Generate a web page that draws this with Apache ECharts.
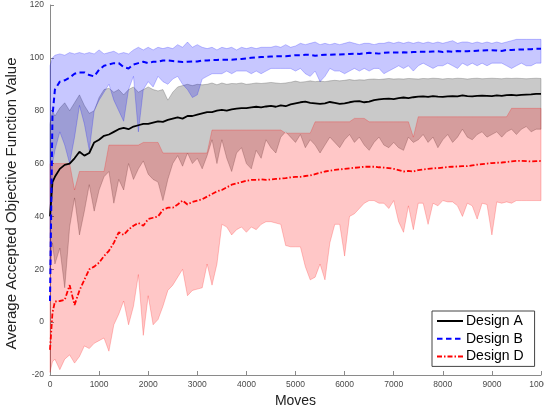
<!DOCTYPE html>
<html>
<head>
<meta charset="utf-8">
<script src="https://cdn.jsdelivr.net/npm/echarts@6/dist/echarts.min.js"></script>
<style>
  html, body { margin: 0; padding: 0; background: #fff; }
  #chart { width: 544px; height: 414px; }
</style>
</head>
<body>
<div id="chart"></div>
<script>
// Sample positions (moves): 0, 50, then every 100 moves up to 10000
const moves = [0, 50].concat(Array.from({ length: 100 }, (_, i) => (i + 1) * 100));

// Design A: mean and min/max envelope
const meanA = [40, 53,
  55, 58, 59.5, 60, 62, 64.5, 63, 64, 68, 69,
  70.5, 71, 72, 73, 73.5, 73, 74, 74.5, 75, 75,
  75.5, 76, 75.8, 76.5, 77, 77.5, 77, 78, 78, 78.5,
  79, 79.5, 79.5, 80, 80.3, 80, 80.5, 80.8, 81, 81,
  81.3, 81.5, 81.3, 81.6, 81.8, 81.5, 82, 81.7, 82.4, 82.8,
  83.2, 83.4, 83, 82.8, 82.6, 82.8, 83.3, 83, 82.6, 82.8,
  83.2, 83.5, 83.6, 83.2, 83.4, 84, 84.3, 84.5, 84.6, 84.4,
  84.8, 85, 84.8, 85.1, 85.3, 85.4, 85.2, 85.5, 85.3, 85.2,
  85.4, 85.5, 85.4, 85.8, 85.5, 85.4, 85.6, 85.7, 85.6, 85.5,
  85.8, 85.6, 85.9, 86, 85.8, 86, 86.1, 86.2, 86.4, 86.4];
const upperA = [75, 80,
  78, 81, 83, 80, 83, 86, 82, 79, 80, 85,
  88, 88.5, 87, 88, 86, 88, 89, 87, 88, 89,
  88, 87.5, 88, 84, 87, 89, 89.5, 90, 89.5, 90,
  89.8, 90, 90.5, 89.8, 90.5, 90, 90.3, 90.2, 90.5, 90,
  90.2, 90.5, 90.3, 90.5, 90.7, 90.5, 90.3, 90.5, 90.8, 91.2,
  90.8, 91, 91.3, 91, 91.2, 91, 91.3, 91.5, 91.3, 91.5,
  91.8, 91.5, 91.7, 91.6, 91.9, 92, 91.8, 92, 92.2, 92,
  92.1, 92, 92.2, 92.1, 92, 92.2, 92.1, 92.3, 92.2, 92,
  92.2, 92.1, 92.3, 92.2, 92, 92.2, 92.3, 92.1, 92.2, 92.3,
  92.2, 92.1, 92.3, 92.2, 92.3, 92.2, 92.1, 92.2, 92.3, 92.2];
const lowerA = [18, 30,
  22, 28, 13, 36, 47, 33, 42, 52, 42, 50,
  55, 57, 45, 54, 50, 60, 54, 58, 61, 56,
  54, 53, 46, 54, 60, 63, 59, 64, 60, 62,
  58, 63, 69, 60, 69, 62, 57, 64, 66, 60,
  58, 65, 62, 69, 66, 64, 70, 72, 70, 68,
  71, 66, 69, 67, 64, 67, 70, 68, 66, 69,
  71, 68, 70, 67, 65, 68, 70, 67, 66, 68,
  66, 65, 70, 68, 69, 71, 68, 70, 66, 69,
  71, 68, 70, 73, 70, 69, 71, 72, 70, 71,
  72, 70, 72, 73, 71, 73, 74, 72, 73, 73];

// Design B: mean and min/max envelope
const meanB = [8, 78,
  88, 91, 91.5, 92.5, 94, 94.5, 94.5, 93.5, 93, 95.5,
  97, 97.5, 98, 98, 96.5, 96, 97.5, 98, 98.5, 98,
  98.5, 98.5, 99, 99, 98.8, 98.6, 98.4, 98.5, 98.6, 98.6,
  99, 99, 99.2, 99.2, 99.3, 99.3, 99.3, 99.5, 99.6, 99.8,
  100, 100.2, 100.3, 100.4, 100.5, 100.6, 100.6, 100.6, 100.8, 101,
  101, 101.2, 101.1, 100.8, 101, 101.2, 101.2, 101.3, 101.3, 101.4,
  101.5, 101.6, 101.5, 101.7, 101.9, 101.8, 101.6, 101.9, 102, 102,
  102, 102.1, 102, 102.2, 102.3, 102.3, 102.3, 102.4, 102.5, 102.2,
  102.5, 102.3, 102.6, 102.5, 102.5, 102.6, 102.7, 102.8, 102.9, 102.9,
  102.8, 102.6, 103, 103, 103.1, 103.2, 103.2, 103.3, 103.4, 103.4];
const upperB = [97, 100,
  101, 101.5, 101, 102, 101.5, 102, 101.5, 102, 101.5, 103,
  101.5, 102, 102.5, 101.5, 102, 101.5, 103, 104, 103, 104,
  103, 104, 103.5, 104, 103.5, 105, 104, 106, 104, 105,
  104, 103.5, 104, 103, 104, 103.5, 104, 103, 104, 103.5,
  104, 103.5, 104, 104, 104, 104.5, 104, 105, 104, 104.5,
  105.5, 105, 105.5, 106, 105, 105.5, 105, 105.5, 105, 105.5,
  106, 105.5, 105, 105.5, 105.5, 105, 105.5, 105.5, 106, 105.5,
  106, 105.5, 106, 105.5, 106, 105.5, 106, 105.5, 106, 105.5,
  106, 106.5, 105.5, 106, 106, 105.5, 106, 105.5, 106, 105.5,
  106, 105.5, 106, 106.5, 107, 107, 107, 107, 107, 107];
const lowerB = [20, 60,
  65, 72, 67, 60, 70, 82, 75, 65, 80, 84,
  87, 90, 84, 80, 76, 88, 93, 72, 88, 91,
  89, 93, 91, 90, 92, 93, 90, 88, 85, 86,
  92, 93, 94, 94, 94, 95, 94, 95, 95, 95,
  94, 95, 94, 95, 96, 96, 96, 96, 96, 95,
  96, 94, 93, 95, 91, 93, 96, 95, 95, 94,
  95, 96, 95, 96, 95, 96, 96, 94, 95, 96,
  97, 96, 97, 95, 97, 98, 97, 96, 97, 97,
  98, 97, 96, 98, 97, 98, 97, 98, 97, 98,
  98, 98, 97, 96, 97, 98, 97, 97, 98, 98];

// Design D: mean and min/max envelope
const meanD = [-10.5, 3.5,
  7.8, 8, 8.4, 14, 6.5, 12, 16, 20, 21, 22.5,
  25, 27, 30, 34, 33, 35, 36.5, 37.5, 36.5, 39,
  39.5, 40, 42.5, 43.3, 43.3, 44.5, 46, 44.5, 45.5, 46,
  46.5, 47.5, 48.5, 49.5, 50, 51, 52, 52.5, 53, 53.5,
  53.8, 53.8, 54, 53.8, 54, 54.2, 54.3, 54.5, 54.8, 55,
  55, 55.3, 55.5, 56, 56.5, 57, 57.3, 57.6, 57.8, 58,
  58.2, 58.4, 58.6, 58.8, 58.8, 58.8, 58.6, 58.5, 58.3, 58,
  57.5, 57, 57.2, 57, 57.5, 57.8, 58, 58.2, 58.3, 58.5,
  58.7, 58.8, 58.9, 59, 59, 59.3, 59.6, 59.8, 60, 60.2,
  60.3, 60.4, 60.6, 60.8, 61, 61, 60.9, 60.8, 60.9, 61];
const upperD = [60, 60,
  60, 60, 60, 60, 50, 57, 57, 57, 57, 57,
  57, 67, 67, 67, 67, 67, 67, 67, 68, 68,
  68, 68, 64, 64, 64, 64, 64, 64, 64, 64,
  64, 64, 72.7, 72.7, 72.7, 72.7, 72.7, 72.7, 72.7, 72.7,
  72.7, 72.7, 72.7, 72.7, 72.7, 72.7, 72.7, 71.5, 71.5, 71.5,
  71.5, 71.5, 71.5, 75.8, 75.8, 75.8, 75.8, 75.8, 75.8, 75.8,
  75.8, 77.1, 77.1, 77.1, 75.8, 75.8, 75.8, 75.8, 75.8, 75.8,
  75.8, 75.8, 75.8, 70, 77.7, 77.7, 77.7, 77.7, 77.7, 77.7,
  77.7, 77.7, 77.7, 77.7, 77.7, 77.7, 77.7, 77.7, 77.7, 77.7,
  77.7, 77.7, 77.7, 80.9, 80.9, 80.9, 80.9, 80.9, 80.9, 80.9];
const lowerD = [-19, -15,
  -14, -18, -14, -12.4, -15.5, -13, -9, -10, -8, -7,
  -6, -11, -1, 3, 8, -1, 6, 18, -5, 10,
  -1, 1, 6, 12, 14, 17, 20, 10, 12, 12.5,
  13, 22, 14, 22, 37, 36, 33, 35, 36, 34,
  36, 35, 37, 38, 38, 37.5, 37, 29, 28.5, 28.5,
  28.5, 21, 16, 17, 22, 16, 30, 37, 37, 25,
  40, 41, 43, 45, 46, 46, 45, 45, 43, 46,
  38, 34, 44, 35, 45, 45, 37, 45, 44, 46,
  45.5, 45.5, 44, 40, 45, 44, 39, 45, 44.5, 33,
  45.5, 45, 45.5, 45, 46, 46, 46, 46, 46, 46];

const FONT = '"Liberation Sans", Arial, Helvetica, sans-serif';
const AXIS_COLOR = '#8a8a8a';
const LABEL_COLOR = '#4a4a4a';

// Shaded min/max envelope drawn as one polygon through the axis scales
function band(id, lower, upper, fill, edge) {
  return {
    type: 'custom',
    id: id,
    silent: true,
    z: 1,
    data: [[0, 0]],
    renderItem: function (params, api) {
      const pts = [];
      for (let i = 0; i < moves.length; i++) pts.push(api.coord([moves[i], upper[i]]));
      for (let i = moves.length - 1; i >= 0; i--) pts.push(api.coord([moves[i], lower[i]]));
      return {
        type: 'polygon',
        shape: { points: pts },
        style: { fill: fill, stroke: edge, lineWidth: 0.8 }
      };
    }
  };
}

function meanLine(name, values, color, width, dash) {
  return {
    type: 'line',
    name: name,
    z: 3,
    data: moves.map((m, i) => [m, values[i]]),
    symbol: 'none',
    showSymbol: false,
    silent: true,
    itemStyle: { color: color },
    lineStyle: { color: color, width: width, type: dash }
  };
}

const plainNumber = v => String(v);

const chart = echarts.init(document.getElementById('chart'), null, { renderer: 'canvas' });
chart.setOption({
  animation: false,
  backgroundColor: '#fff',
  grid: { left: 50, right: 3, top: 5, bottom: 39, outerBoundsMode: 'none', containLabel: false },
  xAxis: {
    type: 'value', min: 0, max: 10000, interval: 1000,
    name: 'Moves', nameLocation: 'middle', nameGap: 18,
    nameTextStyle: { fontFamily: FONT, fontSize: 14, color: '#222' },
    axisLine: { show: true, onZero: false, lineStyle: { color: AXIS_COLOR, width: 1 } },
    axisTick: { show: true, inside: true, length: 4, lineStyle: { color: AXIS_COLOR } },
    axisLabel: { fontFamily: FONT, fontSize: 8.5, color: LABEL_COLOR, margin: 5, formatter: plainNumber },
    splitLine: { show: false }
  },
  yAxis: {
    type: 'value', min: -20, max: 120, interval: 20,
    name: 'Average Accepted Objective Function Value', nameLocation: 'middle', nameGap: 26,
    nameTextStyle: { fontFamily: FONT, fontSize: 15, color: '#222', padding: [0, 27, 0, 0] },
    axisLine: { show: true, onZero: false, lineStyle: { color: AXIS_COLOR, width: 1 } },
    axisTick: { show: true, inside: true, length: 4, lineStyle: { color: AXIS_COLOR } },
    axisLabel: { fontFamily: FONT, fontSize: 8.5, color: LABEL_COLOR, margin: 6, formatter: plainNumber },
    splitLine: { show: false }
  },
  legend: {
    data: ['Design A', 'Design B', 'Design D'],
    orient: 'vertical',
    left: 432, top: 311,
    itemWidth: 26, itemHeight: 14, itemGap: 3.7,
    padding: [3, 11, 3, 4],
    borderColor: '#444', borderWidth: 1, borderRadius: 0,
    backgroundColor: '#fff',
    itemStyle: { color: 'rgba(0,0,0,0)', borderWidth: 0, opacity: 0 },
    textStyle: { fontFamily: FONT, fontSize: 14, color: '#000', padding: [0, 0, 0, -2] }
  },
  series: [
    band('bandA', lowerA, upperA, 'rgba(0,0,0,0.21)', 'rgba(0,0,0,0.25)'),
    band('bandD', lowerD, upperD, 'rgba(255,0,0,0.22)', 'rgba(255,0,0,0.28)'),
    band('bandB', lowerB, upperB, 'rgba(0,0,255,0.22)', 'rgba(0,0,255,0.28)'),
    meanLine('Design D', meanD, '#ff0000', 1.8, [5, 2, 1.5, 2]),
    meanLine('Design A', meanA, '#000000', 1.8, 'solid'),
    meanLine('Design B', meanB, '#0000ff', 2, [5.5, 3.5])
  ]
});
</script>
</body>
</html>
